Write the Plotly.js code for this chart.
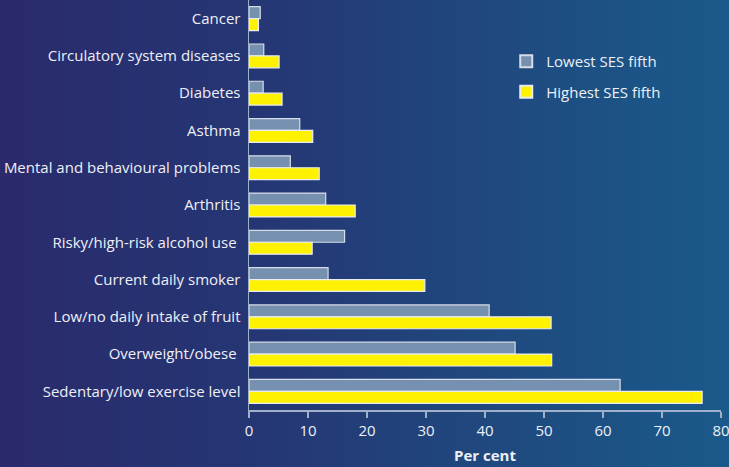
<!DOCTYPE html>
<html>
<head>
<meta charset="utf-8">
<script src="https://cdn.plot.ly/plotly-3.0.1.min.js"></script>
<style>
  html, body { margin: 0; padding: 0; }
  body { width: 729px; height: 467px; overflow: hidden;
         background: linear-gradient(to right, #2a2a6c 0%, #253674 35%, #1f4a80 70%, #1a5a8a 100%); }
  #chart { width: 729px; height: 467px; }
</style>
</head>
<body>
<div id="chart"></div>
<script>
const categories = [
  "Cancer",
  "Circulatory system diseases",
  "Diabetes",
  "Asthma",
  "Mental and behavioural problems",
  "Arthritis",
  "Risky/high-risk alcohol use ",
  "Current daily smoker",
  "Low/no daily intake of fruit",
  "Overweight/obese ",
  "Sedentary/low exercise level"
];
const lowestSES  = [1.9, 2.5, 2.4, 8.6, 7.0, 13.0, 16.2, 13.4, 40.7, 45.1, 62.9];
const highestSES = [1.6, 5.1, 5.6, 10.8, 11.9, 18.0, 10.7, 29.8, 51.2, 51.3, 76.8];
const xTicks = [0, 10, 20, 30, 40, 50, 60, 70, 80];

const FONT = '"Open Sans", sans-serif';

const traces = [
  {
    type: 'bar', orientation: 'h', name: 'Lowest SES fifth', legendgroup: 'low',
    y: categories, x: lowestSES,
    marker: { color: '#7690b0', line: { color: '#d6dce8', width: 1.2 } },
    hoverinfo: 'x+y'
  },
  {
    type: 'bar', orientation: 'h', name: 'Highest SES fifth', legendgroup: 'high',
    y: categories, x: highestSES,
    marker: { color: '#fff200', line: { color: '#e8ecf2', width: 1.2 } },
    hoverinfo: 'x+y'
  }
];

const layout = {
  width: 729, height: 467,
  paper_bgcolor: 'rgba(0,0,0,0)',
  plot_bgcolor: 'rgba(0,0,0,0)',
  margin: { l: 249, r: 8, t: 0, b: 57 },
  barmode: 'group',
  bargap: 0.36,
  bargroupgap: 0,
  font: { family: FONT, size: 15, color: '#eef0f6' },
  showlegend: true,
  legend: {
    x: 0.545, y: 0.89, xanchor: 'left', yanchor: 'top',
    bgcolor: 'rgba(0,0,0,0)',
    font: { family: FONT, size: 15, color: '#eef0f6' },
    tracegroupgap: 8, itemsizing: 'constant', traceorder: 'grouped'
  },
  xaxis: {
    range: [0, 80],
    tickvals: xTicks,
    ticktext: xTicks.map(String),
    ticks: 'outside', ticklen: 6, tickwidth: 1.5, tickcolor: '#9fb0c8',
    ticklabeloverflow: 'allow',
    showline: true, linecolor: '#9fb0c8', linewidth: 1.5,
    showgrid: false, zeroline: false,
    tickfont: { family: FONT, size: 15, color: '#eef0f6' },
    title: { text: '<b>Per cent</b>', font: { family: FONT, size: 15, color: '#eef0f6' }, standoff: 12 },
    fixedrange: true
  },
  yaxis: {
    autorange: 'reversed',
    showline: true, linecolor: '#9fb0c8', linewidth: 1.5,
    ticks: '', showgrid: false, zeroline: false,
    ticklabelstandoff: 4,
    tickfont: { family: FONT, size: 15, color: '#eef0f6' },
    fixedrange: true
  }
};

Plotly.newPlot('chart', traces, layout, { displayModeBar: false, staticPlot: true });
</script>
</body>
</html>
